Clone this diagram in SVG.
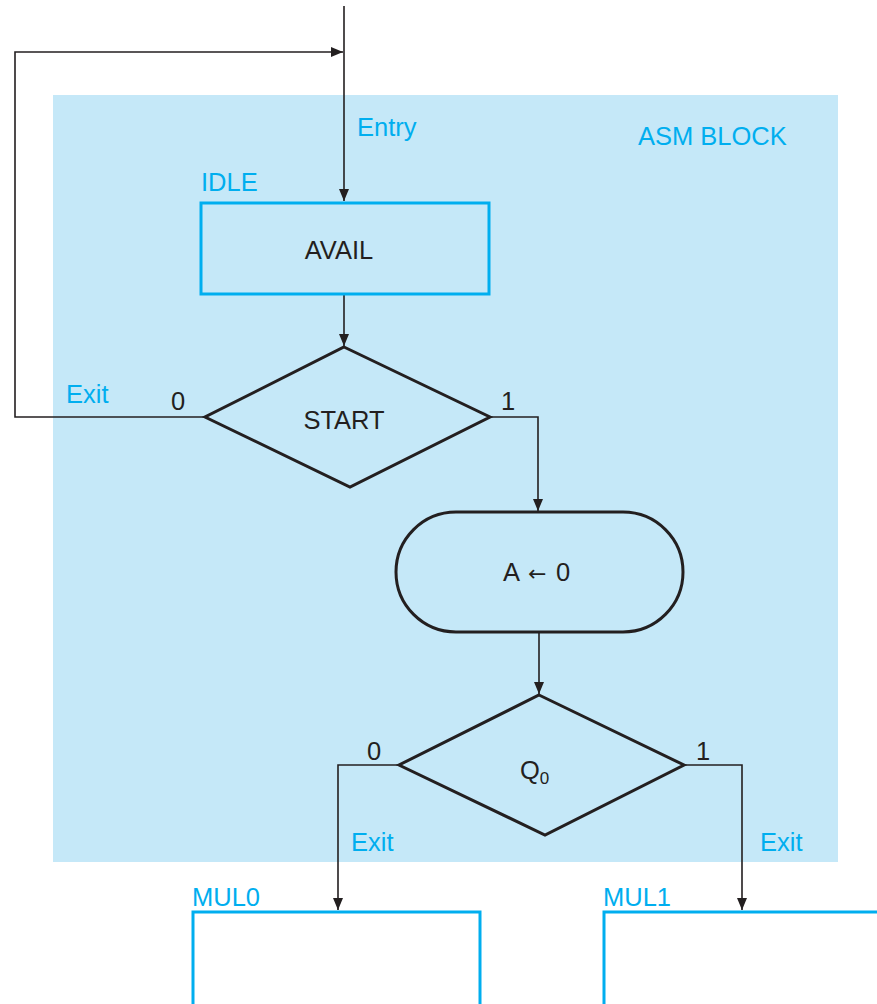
<svg xmlns="http://www.w3.org/2000/svg" width="877" height="1004" viewBox="0 0 877 1004">
<defs>
<marker id="ah" viewBox="0 0 12 10" refX="12" refY="5" markerWidth="12" markerHeight="10" markerUnits="userSpaceOnUse" orient="auto">
<path d="M0,0 L12,5 L0,10 z" fill="#231f20"/>
</marker>
<style>
.bl{font-family:"Liberation Sans",Arial,sans-serif;font-size:25.5px;fill:#00aeef}
.bk{font-family:"Liberation Sans",Arial,sans-serif;font-size:25.5px;fill:#231f20}
.box{fill:none;stroke:#00aeef;stroke-width:3}
.sh{fill:none;stroke:#231f20;stroke-width:3}
.ln{fill:none;stroke:#231f20;stroke-width:1.6}
</style>
</defs>
<rect width="877" height="1004" fill="#ffffff"/>
<rect id="asm-block" x="53" y="95" width="785" height="767" fill="#c5e8f8"/>
<text class="bl" x="638" y="145">ASM BLOCK</text>
<g id="connectors">
<path class="ln" d="M344,6 V201" marker-end="url(#ah)"/>
<path class="ln" d="M205,417 H15 V52 H343" marker-end="url(#ah)"/>
<path class="ln" d="M344,295 V346" marker-end="url(#ah)"/>
<path class="ln" d="M490,417 H538 V511" marker-end="url(#ah)"/>
<path class="ln" d="M539,633 V694" marker-end="url(#ah)"/>
<path class="ln" d="M399,765 H338 V910" marker-end="url(#ah)"/>
<path class="ln" d="M684,765 H742 V910" marker-end="url(#ah)"/>
</g>
<g id="labels">
<text class="bl" x="357" y="136">Entry</text>
<text class="bl" x="66" y="403">Exit</text>
<text class="bk" x="171" y="410">0</text>
<text class="bk" x="501" y="410">1</text>
<text class="bk" x="367" y="760">0</text>
<text class="bk" x="696" y="760">1</text>
<text class="bl" x="351" y="851">Exit</text>
<text class="bl" x="760" y="851">Exit</text>
</g>
<g id="idle">
<rect class="box" x="201" y="203" width="288" height="91"/>
<text class="bl" x="201" y="191">IDLE</text>
<text class="bk" x="339" y="259" text-anchor="middle">AVAIL</text>
</g>
<g id="start">
<polygon class="sh" points="344,347 490,417 350,487 205,417"/>
<text class="bk" x="344" y="429" text-anchor="middle">START</text>
</g>
<g id="clear-a">
<rect class="sh" x="396" y="512" width="287" height="120" rx="60" ry="60"/>
<text class="bk" x="503" y="581">A<tspan x="528" font-family="DejaVu Sans" font-size="22">←</tspan><tspan x="556">0</tspan></text>
</g>
<g id="q0">
<polygon class="sh" points="539,695 684,765 545,835 399,765"/>
<text class="bk" x="520" y="779">Q<tspan font-size="17" dy="5">0</tspan></text>
</g>
<g id="mul0">
<rect class="box" x="193" y="912" width="287" height="100" fill="#ffffff"/>
<text class="bl" x="192" y="906">MUL0</text>
</g>
<g id="mul1">
<rect class="box" x="604" y="912" width="290" height="100" fill="#ffffff"/>
<text class="bl" x="603" y="906">MUL1</text>
</g>
</svg>
